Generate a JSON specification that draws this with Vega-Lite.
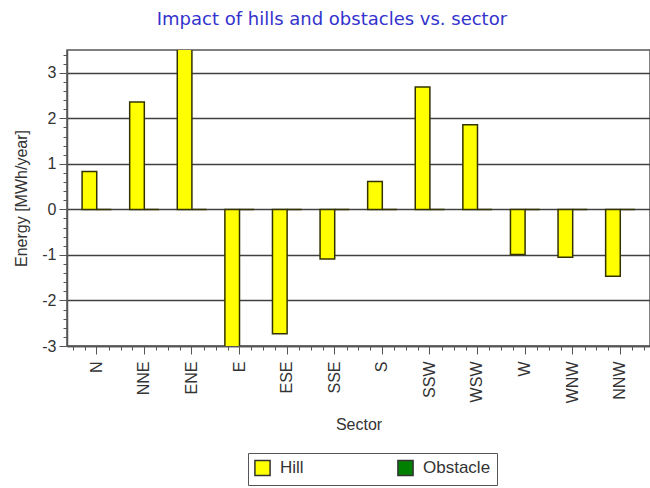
{
  "$schema": "https://vega.github.io/schema/vega-lite/v6.json",
  "width": 583,
  "height": 296,
  "autosize": {"type": "none"},
  "padding": {"left": 67, "top": 50, "right": 0, "bottom": 142},
  "background": "white",
  "config": {
    "font": "Liberation Sans",
    "view": {"stroke": "#555", "strokeWidth": 1.5},
    "axis": {"labelFont": "Liberation Sans", "titleFont": "Liberation Sans", "labelColor": "#333", "titleColor": "#333", "tickColor": "#555", "domainColor": "#555", "titleFontWeight": "normal"}
  },
  "title": {"text": "Impact of hills and obstacles vs. sector", "color": "#3333cc", "font": "DejaVu Sans", "fontSize": 18, "fontWeight": "normal", "anchor": "middle", "frame": "bounds", "offset": 21},
  "data": {"values": [
    {"sector": "N", "type": "Hill", "value": 0.83},
    {"sector": "NNE", "type": "Hill", "value": 2.36},
    {"sector": "ENE", "type": "Hill", "value": 3.55},
    {"sector": "E", "type": "Hill", "value": -3.05},
    {"sector": "ESE", "type": "Hill", "value": -2.73},
    {"sector": "SSE", "type": "Hill", "value": -1.09},
    {"sector": "S", "type": "Hill", "value": 0.61},
    {"sector": "SSW", "type": "Hill", "value": 2.69},
    {"sector": "WSW", "type": "Hill", "value": 1.86},
    {"sector": "W", "type": "Hill", "value": -0.99},
    {"sector": "WNW", "type": "Hill", "value": -1.05},
    {"sector": "NNW", "type": "Hill", "value": -1.47},
    {"sector": "N", "type": "Obstacle", "value": 0},
    {"sector": "NNE", "type": "Obstacle", "value": 0},
    {"sector": "ENE", "type": "Obstacle", "value": 0},
    {"sector": "E", "type": "Obstacle", "value": 0},
    {"sector": "ESE", "type": "Obstacle", "value": 0},
    {"sector": "SSE", "type": "Obstacle", "value": 0},
    {"sector": "S", "type": "Obstacle", "value": 0},
    {"sector": "SSW", "type": "Obstacle", "value": 0},
    {"sector": "WSW", "type": "Obstacle", "value": 0},
    {"sector": "W", "type": "Obstacle", "value": 0},
    {"sector": "WNW", "type": "Obstacle", "value": 0},
    {"sector": "NNW", "type": "Obstacle", "value": 0}
  ]},
  "layer": [
    {
      "mark": {"type": "bar", "stroke": "#333300", "strokeWidth": 1.5, "clip": true},
      "encoding": {
        "x": {"field": "sector", "type": "nominal",
              "sort": ["N","NNE","ENE","E","ESE","SSE","S","SSW","WSW","W","WNW","NNW"],
              "scale": {"paddingInner": 0.385, "paddingOuter": 0.317},
              "axis": {"title": "Sector", "titleFontSize": 16, "titlePadding": 14, "labelAngle": -90, "labelFontSize": 16, "labelPadding": 7, "tickSize": 8, "domainWidth": 1.5}},
        "xOffset": {"field": "type", "type": "nominal", "sort": ["Hill", "Obstacle"], "scale": {"paddingInner": 0, "paddingOuter": 0}},
        "y": {"field": "value", "type": "quantitative",
              "scale": {"domain": [-3, 3.5], "nice": false, "zero": false},
              "axis": {"title": "Energy [MWh/year]", "titleFontSize": 16, "titlePadding": 12, "labelFontSize": 16, "values": [-3,-2,-1,0,1,2,3], "labelExpr": "replace(datum.label, '\u2212', '-')", "tickSize": 8, "grid": true, "gridColor": "#404040", "gridWidth": 1.5, "gridOpacity": 1, "domainWidth": 1.5, "labelPadding": 3}},
        "color": {"field": "type", "type": "nominal",
                  "scale": {"domain": ["Hill", "Obstacle"], "range": ["#ffff00", "#008000"]},
                  "legend": {"title": null, "orient": "none", "legendX": 181, "legendY": 403, "direction": "horizontal", "columns": 2, "columnPadding": 90, "symbolType": "square", "symbolSize": 230, "symbolStrokeColor": "#333", "symbolStrokeWidth": 1.5, "symbolOpacity": 1, "labelFontSize": 17, "labelColor": "#333", "labelFont": "Liberation Sans", "labelOffset": 9, "strokeColor": "#555", "padding": 6, "fillColor": "white"}}
      }
    },
    {
      "mark": {"type": "rule", "opacity": 0},
      "encoding": {
        "y": {"datum": 0, "type": "quantitative",
              "scale": {"domain": [-3, 3.5], "nice": false, "zero": false},
              "axis": {"orient": "left", "title": null, "labels": false, "domain": false, "grid": false, "tickSize": 4,
                       "values": [-2.8,-2.6,-2.4,-2.2,-1.8,-1.6,-1.4,-1.2,-0.8,-0.6,-0.4,-0.2,0.2,0.4,0.6,0.8,1.2,1.4,1.6,1.8,2.2,2.4,2.6,2.8,3.2,3.4]}}
      }
    },
    {
      "mark": {"type": "rule", "opacity": 0},
      "encoding": {
        "x": {"datum": 0, "type": "quantitative",
              "scale": {"domain": [-0.6245, 11.6255], "nice": false, "zero": false},
              "axis": {"orient": "bottom", "title": null, "labels": false, "domain": false, "grid": false, "tickSize": 4,
                       "values": [-0.5,-0.25,0.25,0.5,0.75,1.25,1.5,1.75,2.25,2.5,2.75,3.25,3.5,3.75,4.25,4.5,4.75,5.25,5.5,5.75,6.25,6.5,6.75,7.25,7.5,7.75,8.25,8.5,8.75,9.25,9.5,9.75,10.25,10.5,10.75,11.25,11.5]}}
      }
    }
  ],
  "resolve": {"scale": {"x": "independent", "y": "independent"}, "axis": {"x": "independent", "y": "independent"}}
}
